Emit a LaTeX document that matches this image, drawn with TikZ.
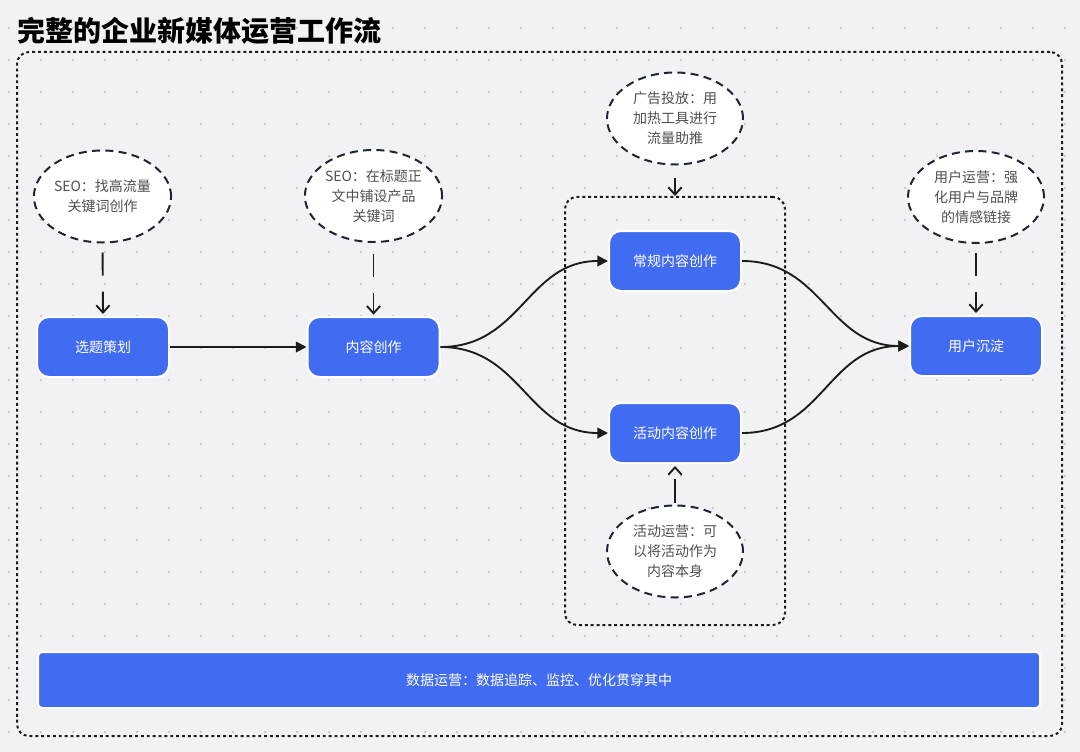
\documentclass[tikz,border=0pt]{standalone}
\usepackage{fontspec}
\setmainfont{Noto Sans CJK SC}
\usetikzlibrary{arrows.meta,shapes.geometric}
\definecolor{bg}{HTML}{F2F2F5}
\definecolor{blu}{HTML}{416CF2}
\definecolor{dotc}{HTML}{C9C9CE}
\definecolor{ink}{HTML}{1C1C1C}
\definecolor{elb}{HTML}{1F2633}
\definecolor{etx}{HTML}{505050}
\tikzset{
  bluebox/.style={draw=white, line width=1.5pt, fill=blu, rounded corners=9pt,
    minimum width=99pt, minimum height=45pt, inner sep=0pt, text=white,
    font=\fontsize{10.5pt}{13pt}\selectfont},
  note/.style={ellipse, draw=elb, line width=1.5pt, dash pattern=on 6pt off 4pt,
    fill=white, minimum width=102pt, minimum height=69pt, inner sep=0pt,
    align=center, text=etx, font=\fontsize{10.5pt}{15pt}\selectfont},
  frame/.style={draw=ink, line width=1.5pt, dash pattern=on 2.2pt off 2.2pt,
    rounded corners=9pt, inner sep=0pt},
  flow/.style={draw=ink, line width=1.4pt, -{Triangle[length=8pt,width=8pt]}},
  hint/.style={draw=ink, line width=1.4pt, dash pattern=on 17.3pt off 12pt,
    -{Straight Barb[length=5.5pt,width=10pt]}},
}
\begin{document}
\begin{tikzpicture}[x=0.75pt,y=-0.75pt]
\fill[bg] (0,0) rectangle (1080,752);
\useasboundingbox (0,0) rectangle (1080,752);
\foreach \x in {9,41,...,1073}{
  \foreach \y in {28,60,...,748}{
    \fill[dotc] (\x-1.1,\y-1.1) rectangle ++(2.2,2.2);
  }
}
% title
\node[anchor=west, inner sep=0pt, font=\fontsize{21pt}{25pt}\selectfont\bfseries] (title) at (17,31) {完整的企业新媒体运营工作流};
% frames
\node[frame, minimum width=783.75pt, minimum height=513pt] (outer) at (539.5,394) {};
\node[frame, minimum width=165pt, minimum height=321pt] (grp) at (675,411) {};
% main nodes
\node[bluebox] (sel) at (103,347) {选题策划};
\node[bluebox] (nc) at (373.5,347) {内容创作};
\node[bluebox] (reg) at (675,261) {常规内容创作};
\node[bluebox] (act) at (675,433) {活动内容创作};
\node[bluebox] (usr) at (976,346) {用户沉淀};
\node[bluebox, rounded corners=3pt, minimum width=751.5pt, minimum height=42pt] (data) at (539,680) {数据运营：数据追踪、监控、优化贯穿其中};
% notes
\node[note] (n1) at (102.5,196.5) {SEO：找高流量\\关键词创作};
\node[note] (n2) at (373.5,196) {SEO：在标题正\\文中铺设产品\\关键词};
\node[note] (n3) at (675,118.5) {广告投放：用\\加热工具进行\\流量助推};
\node[note] (n4) at (675,551.5) {活动运营：可\\以将活动作为\\内容本身};
\node[note] (n5) at (976,197) {用户运营：强\\化用户与品牌\\的情感链接};
% hint arrows
\draw[hint, shorten <=6.75pt, shorten >=1.5pt] (n1.south) -- (sel.north);
\draw[hint, shorten <=8pt, shorten >=1pt] (n2.south) -- (nc.north);
\draw[hint, shorten <=9.5pt] (n3.south) -- (grp.north);
\draw[hint, shorten <=1.5pt, shorten >=1.5pt] (n4.north) -- (act.south);
\draw[hint, shorten <=7pt, shorten >=1.5pt] (n5.south) -- (usr.north);
% flow arrows
\draw[flow] (sel.east) -- (nc.west);
\draw[flow] (nc.east) to[out=0, in=180, looseness=1.1] (reg.west);
\draw[flow] (nc.east) to[out=0, in=180, looseness=1.1] (act.west);
\draw[flow] (reg.east) to[out=0, in=180, looseness=1.1] (usr.west);
\draw[flow] (act.east) to[out=0, in=180, looseness=1.1] (usr.west);
\end{tikzpicture}
\end{document}
